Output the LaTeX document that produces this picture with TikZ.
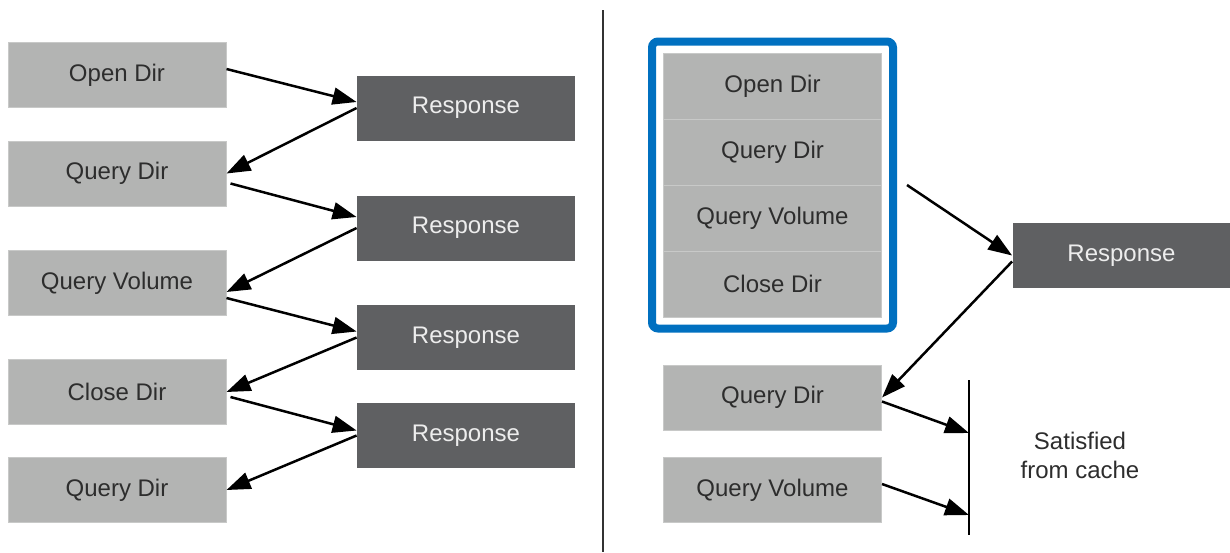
\documentclass[tikz,border=0pt]{standalone}
\usepackage{fontspec}
\setmainfont{Liberation Sans}
\usetikzlibrary{arrows.meta,fit}

\definecolor{reqgray}{RGB}{179,180,179}
\definecolor{reqedge}{RGB}{200,201,200}
\definecolor{respgray}{RGB}{95,96,98}
\definecolor{textdark}{RGB}{45,45,45}
\definecolor{frameblue}{RGB}{0,112,192}

\begin{document}
\begin{tikzpicture}[x=0.5pt, y=-0.5pt,
		reqbox/.style={fill=reqgray, draw=reqedge, line width=0.5pt, minimum width=109pt, minimum height=32.5pt, inner sep=0pt, text=textdark, font=\fontsize{12}{14.5}\selectfont},
		respbox/.style={fill=respgray, minimum width=109pt, minimum height=32.5pt, inner sep=0pt, text=white!93!black, font=\fontsize{12}{14.5}\selectfont},
		flow/.style={-{Triangle[length=12pt,width=8.5pt]}, line width=1.25pt}]
		\useasboundingbox (0,0) rectangle (1230,552);

		% Left: one request, one response
		\node[reqbox] (od) at (117,75) {Open Dir};
		\node[reqbox] (qd1) at (117,173.5) {Query Dir};
		\node[reqbox] (qv) at (117,283) {Query Volume};
		\node[reqbox] (cd) at (117,392) {Close Dir};
		\node[reqbox] (qd2) at (117,490) {Query Dir};

		\node[respbox] (r1) at (466,108) {Response};
		\node[respbox] (r2) at (466,228) {Response};
		\node[respbox] (r3) at (466,337.5) {Response};
		\node[respbox] (r4) at (466,435.5) {Response};

		\draw[flow] ([yshift=3pt]od.east) -- ([yshift=3pt]r1.west);
		\draw[flow] (r1.west) -- (qd1.east);
		\draw[flow] ([xshift=2pt,yshift=-5pt]qd1.east) -- ([yshift=5.5pt]r2.west);
		\draw[flow] (r2.west) -- ([yshift=-4.5pt]qv.east);
		\draw[flow] ([yshift=-7.5pt]qv.east) -- ([yshift=3pt]r3.west);
		\draw[flow] (r3.west) -- (cd.east);
		\draw[flow] ([xshift=2pt,yshift=-2.5pt]cd.east) -- ([yshift=2.5pt]r4.west);
		\draw[flow] (r4.west) -- (qd2.east);

		% Divider
		\draw[line width=1pt, black!80] (603,10) -- (603,552);

		% Right: compound request
		\node[reqbox, minimum height=33pt] (s1) at (772.5,86) {Open Dir};
		\node[reqbox, minimum height=33pt] (s2) at (772.5,152) {Query Dir};
		\node[reqbox, minimum height=33pt] (s3) at (772.5,218) {Query Volume};
		\node[reqbox, minimum height=33pt] (s4) at (772.5,284) {Close Dir};
		\node[fit=(s1)(s4), inner sep=5.5pt, draw=frameblue, line width=4pt, rounded corners=3pt] (frame) {};

		\node[respbox] (r5) at (1121.5,255.5) {Response};

		\node[reqbox] (qd3) at (772.5,397.5) {Query Dir};
		\node[reqbox] (qv3) at (772.5,490) {Query Volume};

		\coordinate (ctop) at (969,380);
		\coordinate (cbot) at (969,535);
		\coordinate (c1) at (969,433);
		\coordinate (c2) at (969,515);

		\draw[flow] ([xshift=5pt]frame.east) -- (r5.west);
		\draw[flow] ([yshift=-3pt]r5.west) -- (qd3.east);
		\draw[line width=1.25pt] (ctop) -- (cbot);
		\draw[flow] ([yshift=-2pt]qd3.east) -- (c1);
		\draw[flow] ([yshift=3pt]qv3.east) -- (c2);

		\node[align=center, text=textdark, font=\fontsize{12}{14.5}\selectfont] (cache) at (1080,455.5) {Satisfied\\from cache};
	\end{tikzpicture}
\end{document}
